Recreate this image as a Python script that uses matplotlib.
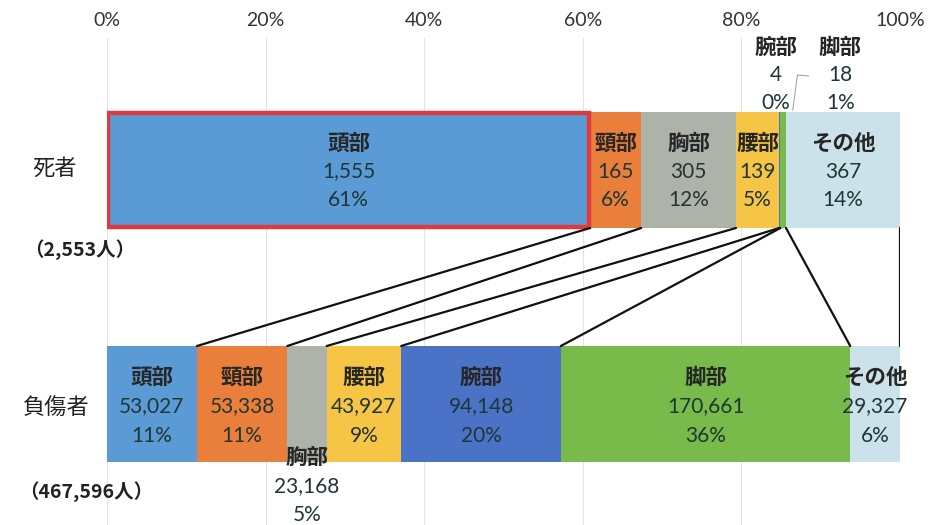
import numpy as np
import matplotlib.pyplot as plt
from matplotlib.patches import Rectangle

plt.rcParams['font.family'] = ['Noto Sans CJK JP', 'DejaVu Sans']

parts = ['頭部', '頸部', '胸部', '腰部', '腕部', '脚部', 'その他']
colors = ['#5b9bd5', '#ea7f3c', '#aeb3a9', '#f7c545', '#4a72c6', '#78bb4a', '#cbe2ea']

dead = [1555, 165, 305, 139, 4, 18, 367]
injured = [53027, 53338, 23168, 43927, 94148, 170661, 29327]
dead_total_label = '（2,553人）'
injured_total_label = '（467,596人）'
ticks = [0, 20, 40, 60, 80, 100]

W, H = 929, 525
fig = plt.figure(figsize=(W / 100, H / 100), dpi=100)
ax = fig.add_axes([107 / W, 0, 793 / W, 1])
ax.set_xlim(0, 100)
ax.set_ylim(H, 0)
ax.axis('off')

# faint gridlines + tick labels on top
for t in ticks:
    ax.plot([t, t], [38, H], color='#e4e4e4', lw=0.8, zorder=0)
    ax.text(t, 20, f'{t}%', ha='center', va='center', fontsize=14,
            family=['Lato', 'DejaVu Sans'], color='#333333')

rows = [('死者', dead, 170), ('負傷者', injured, 404)]
bar_h = 116
pcts = {}
lefts = {}
for name, vals, yc in rows:
    v = np.array(vals, dtype=float)
    p = v / v.sum() * 100
    left = np.concatenate([[0], np.cumsum(p)[:-1]])
    pcts[name] = p
    lefts[name] = left
    ax.barh(yc, p, left=left, height=bar_h, color=colors, edgecolor='none', zorder=2)

# red frame around deaths / head
ax.add_patch(Rectangle((lefts['死者'][0] + 0.1, 170 - bar_h / 2 + 1), pcts['死者'][0] - 0.2, bar_h - 2,
                       fill=False, edgecolor='#df3a3e', lw=3.2, zorder=3))

# connector lines between segment boundaries
top_edge = 170 + bar_h / 2
bot_edge = 404 - bar_h / 2
cum_d = np.cumsum(pcts['死者'])
cum_i = np.cumsum(pcts['負傷者'])
for a, b in zip(cum_d, cum_i):
    ax.plot([a, b], [top_edge, bot_edge], color='#111111', lw=1.6, zorder=4, solid_capstyle='round')

name_kw = dict(ha='center', va='center', fontsize=15.5, fontweight='bold', color='#262626', zorder=5)
num_kw = dict(ha='center', va='center', fontsize=15, family=['Lato', 'DejaVu Sans'], color='#1f3636', zorder=5)


def label(x, y, part, val, pct, step):
    ax.text(x, y, part, **name_kw)
    ax.text(x, y + step, f'{val:,}', **num_kw)
    ax.text(x, y + 2 * step, f'{pct:.0f}%', **num_kw)


# deaths labels
for i, part in enumerate(parts):
    p = pcts['死者'][i]
    xc = lefts['死者'][i] + p / 2
    if part == '腕部':
        label(xc - 0.5, 47, part, dead[i], p, 28)
    elif part == '脚部':
        label(xc + 7.2, 47, part, dead[i], p, 28)
        ax.plot([xc + 3.2, xc + 1.8, xc + 1.2], [76, 75, 110], color='#9a9a9a', lw=0.7, zorder=5)
    else:
        label(xc, 143, part, dead[i], p, 28.5)

# injured labels
for i, part in enumerate(parts):
    p = pcts['負傷者'][i]
    xc = lefts['負傷者'][i] + p / 2
    if part == '胸部':
        label(xc, 457, part, injured[i], p, 29)
    else:
        label(xc, 377, part, injured[i], p, 29.5)

# row labels
fig.text(55 / W, 1 - 168 / H, '死者', ha='center', va='center', fontsize=16, color='#222222')
fig.text(80 / W, 1 - 250 / H, dead_total_label, ha='center', va='center', fontsize=14,
         fontweight='bold', color='#222222')
fig.text(56 / W, 1 - 408 / H, '負傷者', ha='center', va='center', fontsize=16, color='#222222')
fig.text(86 / W, 1 - 492 / H, injured_total_label, ha='center', va='center', fontsize=14,
         fontweight='bold', color='#222222')

fig.savefig('out.png', dpi=100, facecolor='white')
